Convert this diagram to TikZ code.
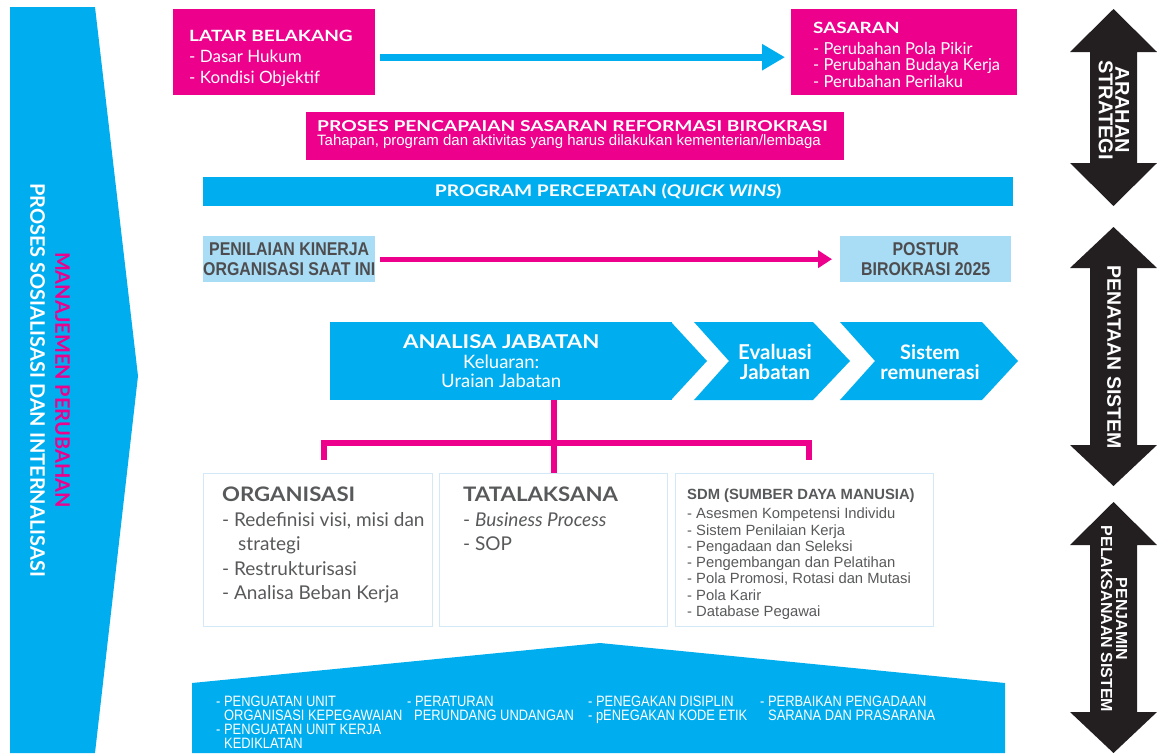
\documentclass[tikz,border=0pt]{standalone}
\usepackage{fontspec}
\setmainfont{Lato}
\newfontfamily\arialfont{Liberation Sans}
\newfontfamily\narrowfont[FakeStretch=0.86]{Liberation Sans}
\usepackage{tikz}
\usetikzlibrary{arrows.meta,positioning}
\definecolor{rbpink}{HTML}{EC008C}
\definecolor{rbblue}{HTML}{00AEEF}
\definecolor{rblight}{HTML}{A9DCF5}
\definecolor{rbline}{HTML}{D3E9F8}
\definecolor{rbgray}{HTML}{58595B}
\definecolor{rbdark}{HTML}{4D4D4F}
\definecolor{rbblack}{HTML}{231F20}
\newcommand{\widened}[2]{{\addfontfeature{FakeStretch=#1}#2}}

\begin{document}
\begin{tikzpicture}[x=1pt, y=-1pt,
    pinkbox/.style={fill=rbpink, inner sep=0pt, anchor=north west},
    lightbox/.style={fill=rblight, inner sep=0pt, anchor=north west, align=center, text=rbdark,
        font=\narrowfont\bfseries\fontsize{18.5}{20}\selectfont},
    whitebox/.style={draw=rbline, line width=1.2pt, inner sep=0pt, anchor=north west},
    boxtext/.style={inner sep=0pt, align=left},
    bluearrow/.style={rbblue, line width=7pt, -{Triangle[length=23pt,width=25pt]}, shorten <=5pt, shorten >=6pt},
    pinkarrow/.style={rbpink, line width=5pt, -{Triangle[length=14pt,width=17pt]}, shorten <=5pt, shorten >=8pt},
    pinkline/.style={rbpink, line width=6pt},
    sidetext/.style={rotate=-90, align=center, text=white, inner sep=0pt}]

    \useasboundingbox (0,0) rectangle (1157,753);

    % === Manajemen perubahan (kiri) ===
    \fill[rbblue] (10,7) -- (95,7) -- (138,376) -- (95,753) -- (10,753) -- cycle;
    \node[sidetext, font=\bfseries\fontsize{20}{25}\selectfont] (manajemen) at (50,380)
        {\textcolor{rbpink}{MANAJEMEN PERUBAHAN}\\PROSES SOSIALISASI DAN INTERNALISASI};

    % === Latar belakang -> sasaran ===
    \node[pinkbox, minimum width=202pt, minimum height=86pt] (latar) at (173,9) {};
    \node[boxtext, text=white, font=\fontsize{17}{21}\selectfont, below right=21pt and 16pt of latar.north west] (latartxt)
        {{\bfseries\fontsize{15.5}{21}\selectfont\widened{1.23}{LATAR BELAKANG}}\\- Dasar Hukum\\- Kondisi Objektif};
    \node[pinkbox, minimum width=226pt, minimum height=86pt] (sasaran) at (791,9) {};
    \node[boxtext, text=white, font=\fontsize{16.5}{16.5}\selectfont, below right=13pt and 22pt of sasaran.north west] (sasarantxt)
        {{\bfseries\fontsize{15.5}{16.5}\selectfont\widened{1.22}{SASARAN}}\\[4pt]- Perubahan Pola Pikir\\- Perubahan Budaya Kerja\\- Perubahan Perilaku};
    \draw[bluearrow] ([yshift=-5pt]latar.east) -- ([yshift=-5pt]sasaran.west);

    % === Proses pencapaian ===
    \node[pinkbox, minimum width=538pt, minimum height=48pt] (proses) at (306,112) {};
    \node[boxtext, text=white, font=\fontsize{15}{14}\selectfont, below right=8pt and 11pt of proses.north west] (prosestxt)
        {{\bfseries\widened{1.28}{PROSES PENCAPAIAN SASARAN REFORMASI BIROKRASI}}\\
         {\arialfont\fontsize{15}{14}\selectfont Tahapan, program dan aktivitas yang harus dilakukan kementerian/lembaga}};

    % === Quick wins ===
    \node[fill=rbblue, inner sep=0pt, anchor=north west, minimum width=810pt, minimum height=29pt,
        text=white, font=\bfseries\fontsize{16}{18}\selectfont] (quickwins) at (203,177)
        {\widened{1.2}{PROGRAM PERCEPATAN (\textit{QUICK WINS})}};

    % === Kinerja -> postur ===
    \node[lightbox, minimum width=172pt, minimum height=46pt] (penilaian) at (203,236) {PENILAIAN KINERJA\\ORGANISASI SAAT INI};
    \node[lightbox, minimum width=171pt, minimum height=46pt] (postur) at (840,236) {POSTUR\\BIROKRASI 2025};
    \draw[pinkarrow] (penilaian) -- (postur);

    % === Analisa jabatan, evaluasi, remunerasi ===
    \node[fill=rbblue, inner sep=0pt, anchor=north west, minimum width=342pt, minimum height=78pt,
        align=center, text=white, font=\fontsize{18.5}{19.5}\selectfont] (analisa) at (330,322)
        {{\bfseries\fontsize{19}{19.5}\selectfont\widened{1.17}{ANALISA JABATAN}}\\Keluaran:\\Uraian Jabatan};
    \fill[rbblue] (671,322) -- (707,361) -- (671,400) -- cycle;
    \fill[rbblue] (694,322) -- (813,322) -- (850,361) -- (813,400) -- (694,400) -- (729,361) -- cycle;
    \node[align=center, text=white, font=\bfseries\fontsize{20.5}{20.5}\selectfont] (evaluasi) at (775,362) {Evaluasi\\Jabatan};
    \fill[rbblue] (840,322) -- (982,322) -- (1018,361) -- (982,400) -- (840,400) -- (875,361) -- cycle;
    \node[align=center, text=white, font=\bfseries\fontsize{20}{20.5}\selectfont] (sistem) at (930,362) {Sistem\\remunerasi};

    % === Organisasi, tatalaksana, SDM ===
    \node[whitebox, minimum width=229pt, minimum height=153pt] (org) at (203,473) {};
    \node[whitebox, minimum width=228pt, minimum height=153pt] (tata) at (439,473) {};
    \node[whitebox, minimum width=258pt, minimum height=153pt] (sdm) at (675,473) {};
    \draw[pinkline] (analisa.south -| tata.north) -- (tata.north);
    \draw[pinkline] ([xshift=6pt,yshift=13pt]org.north) |- ([yshift=30pt]tata.north) -| ([xshift=4pt,yshift=13pt]sdm.north);

    \node[boxtext, text=rbgray, font=\fontsize{19}{24.5}\selectfont, below right=14pt and 19pt of org.north west] (orgtxt)
        {{\bfseries\fontsize{20}{24.5}\selectfont\widened{1.11}{ORGANISASI}}\\- Redefinisi visi, misi dan\\\hspace*{16pt}strategi\\- Restrukturisasi\\- Analisa Beban Kerja};
    \node[boxtext, text=rbgray, font=\fontsize{19}{24.5}\selectfont, below right=14pt and 24pt of tata.north west] (tatatxt)
        {{\bfseries\fontsize{20}{24.5}\selectfont\widened{1.11}{TATALAKSANA}}\\- \textit{Business Process}\\- SOP};
    \node[boxtext, text=rbgray, font=\arialfont\fontsize{14.8}{16.3}\selectfont, below right=16pt and 12pt of sdm.north west] (sdmtxt)
        {{\bfseries SDM (SUMBER DAYA MANUSIA)}\\[2.5pt]- Asesmen Kompetensi Individu\\- Sistem Penilaian Kerja\\- Pengadaan dan Seleksi\\
         - Pengembangan dan Pelatihan\\- Pola Promosi, Rotasi dan Mutasi\\- Pola Karir\\- Database Pegawai};

    % === Penjamin (bawah) ===
    \fill[rbblue] (192,753) -- (192,683) -- (600,643) -- (1005,683) -- (1005,753) -- cycle;
    \node[boxtext, text=white, font=\narrowfont\fontsize{15}{14}\selectfont, anchor=north west] (dasar1) at (216,696)
        {- PENGUATAN UNIT\\\hspace*{8pt}ORGANISASI KEPEGAWAIAN\\- PENGUATAN UNIT KERJA\\\hspace*{8pt}KEDIKLATAN};
    \node[boxtext, text=white, font=\narrowfont\fontsize{15}{14}\selectfont, anchor=north west] (dasar2) at (407,696)
        {- PERATURAN\\\hspace*{7pt}PERUNDANG UNDANGAN};
    \node[boxtext, text=white, font=\narrowfont\fontsize{15}{14}\selectfont, anchor=north west] (dasar3) at (588,696)
        {- PENEGAKAN DISIPLIN\\- pENEGAKAN KODE ETIK};
    \node[boxtext, text=white, font=\narrowfont\fontsize{15}{14}\selectfont, anchor=north west] (dasar4) at (760,696)
        {- PERBAIKAN PENGADAAN\\\hspace*{8pt}SARANA DAN PRASARANA};

    % === Panah kanan ===
    \fill[rbblack] (1113.5,9) -- (1157,52) -- (1137,52) -- (1137,163) -- (1157,163) -- (1113.5,206)
        -- (1070,163) -- (1090,163) -- (1090,52) -- (1070,52) -- cycle;
    \node[sidetext, font=\arialfont\bfseries\fontsize{20}{16.5}\selectfont] (arahan) at (1114,110) {ARAHAN\\STRATEGI};
    \fill[rbblack] (1113.5,227) -- (1157,268) -- (1137,268) -- (1137,445) -- (1157,445) -- (1113.5,486)
        -- (1070,445) -- (1090,445) -- (1090,268) -- (1070,268) -- cycle;
    \node[sidetext, font=\arialfont\bfseries\fontsize{19.5}{18}\selectfont] (penataan) at (1114,357) {PENATAAN SISTEM};
    \fill[rbblack] (1113.5,502) -- (1157,545) -- (1137,545) -- (1137,712) -- (1157,712) -- (1113.5,753)
        -- (1070,712) -- (1090,712) -- (1090,545) -- (1070,545) -- cycle;
    \node[sidetext, font=\arialfont\bfseries\fontsize{16}{15}\selectfont] (penjamin) at (1114,619) {PENJAMIN\\PELAKSANAAN SISTEM};
\end{tikzpicture}
\end{document}
